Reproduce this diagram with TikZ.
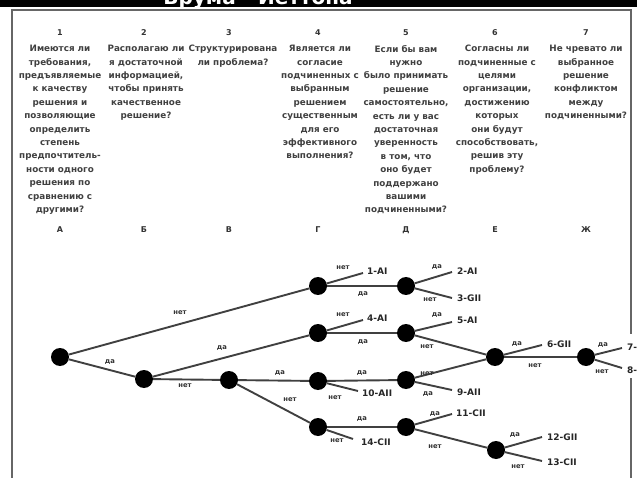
\documentclass[tikz,border=0pt]{standalone}
\usepackage{fontspec}
\setmainfont{DejaVu Sans}
\begin{document}
\begin{tikzpicture}[x=1pt,y=-1pt,
  dot/.style={circle, fill=black, minimum size=18pt, inner sep=0pt},
  branch/.style={draw=black!75, line width=1.9pt},
  yn/.style={font=\fontsize{6.8}{7}\selectfont\bfseries, text=black!80, inner sep=0pt},
  leaf/.style={font=\fontsize{9}{9}\selectfont\bfseries, text=black!85, anchor=west, inner sep=0pt},
  qtext/.style={font=\fontsize{8.8}{13.4}\selectfont\bfseries, align=center, anchor=north, inner sep=0pt, text=black!75},
  colhead/.style={font=\fontsize{8}{8}\selectfont\bfseries, text=black!80, inner sep=0pt},
  frameline/.style={draw=black!60, line width=1.4pt}]
\useasboundingbox (0,0) rectangle (637,478);
% title bar
\begin{scope}
  \clip (0,0) rectangle (637,7);
  \fill[black] (0,0) rectangle (637,7);
  \node[text=white, font=\fontsize{20}{20}\selectfont\bfseries, anchor=base, inner sep=0pt] (title) at (258,5) {Врума - Йеттона};
\end{scope}
% frame
\coordinate (f1) at (12,478);
\coordinate (f2) at (12,10);
\coordinate (f3) at (631,10);
\coordinate (f4) at (631,334);
\coordinate (f5) at (631,378);
\coordinate (f6) at (631,478);
\draw[frameline] (f1) -- (f2) -- (f3) -- (f4);
\draw[frameline] (f5) -- (f6);
% column numbers
\foreach \n/\x in {1/60,2/144,3/229,4/318,5/406,6/495,7/586}
  \node[colhead] (num\n) at (\x,33) {\n};
% questions
\node[qtext] (q1) at (60,45) {Имеются ли\\требования,\\предъявляемые\\к качеству\\решения и\\позволяющие\\определить\\степень\\предпочтитель-\\ности одного\\решения по\\сравнению с\\другими?};
\node[qtext] (q2) at (146,45) {Располагаю ли\\я достаточной\\информацией,\\чтобы принять\\качественное\\решение?};
\node[qtext] (q3) at (233,45) {Структурирована\\ли проблема?};
\node[qtext] (q4) at (320,45) {Является ли\\согласие\\подчиненных с\\выбранным\\решением\\существенным\\для его\\эффективного\\выполнения?};
\node[qtext] (q5) at (406,45) {Если бы вам\\нужно\\было принимать\\решение\\самостоятельно,\\есть ли у вас\\достаточная\\уверенность\\в том, что\\оно будет\\поддержано\\вашими\\подчиненными?};
\node[qtext] (q6) at (497,45) {Согласны ли\\подчиненные с\\целями\\организации,\\достижению\\которых\\они будут\\способствовать,\\решив эту\\проблему?};
\node[qtext] (q7) at (586,45) {Не чревато ли\\выбранное\\решение\\конфликтом\\между\\подчиненными?};
% column letters
\foreach \n/\l/\x in {1/А/60,2/Б/144,3/В/229,4/Г/318,5/Д/406,6/Е/495,7/Ж/586}
  \node[colhead] (let\n) at (\x,230) {\l};
% decision nodes
\node[dot] (A) at (60,357) {};
\node[dot] (B) at (144,379) {};
\node[dot] (V) at (229,380) {};
\node[dot] (G1) at (318,286) {};
\node[dot] (G2) at (318,333) {};
\node[dot] (G3) at (318,381) {};
\node[dot] (G4) at (318,427) {};
\node[dot] (D1) at (406,286) {};
\node[dot] (D2) at (406,333) {};
\node[dot] (D3) at (406,380) {};
\node[dot] (D4) at (406,427) {};
\node[dot] (E1) at (495,357) {};
\node[dot] (E2) at (496,450) {};
\node[dot] (Zh) at (586,357) {};
% leaf ends
\coordinate (l1) at (363,273);
\coordinate (l2) at (452,272);
\coordinate (l3) at (452,298);
\coordinate (l4) at (363,320);
\coordinate (l5) at (452,322);
\coordinate (l6) at (542,345);
\coordinate (l7) at (622,348);
\coordinate (l8) at (622,368);
\coordinate (l9) at (452,390);
\coordinate (l10) at (358,391);
\coordinate (l11) at (452,414);
\coordinate (l12) at (542,437);
\coordinate (l13) at (542,461);
\coordinate (l14) at (353,439);
% branches
\draw[branch] (A) -- (G1);
\draw[branch] (A) -- (B);
\draw[branch] (B) -- (G2);
\draw[branch] (B) -- (V);
\draw[branch] (V) -- (G3);
\draw[branch] (V) -- (G4);
\draw[branch] (G1) -- (D1);
\draw[branch] (G2) -- (D2);
\draw[branch] (G3) -- (D3);
\draw[branch] (G4) -- (D4);
\draw[branch] (D2) -- (E1);
\draw[branch] (D3) -- (E1);
\draw[branch] (D4) -- (E2);
\draw[branch] (E1) -- (Zh);
\draw[branch] (G1) -- (l1);
\draw[branch] (D1) -- (l2);
\draw[branch] (D1) -- (l3);
\draw[branch] (G2) -- (l4);
\draw[branch] (D2) -- (l5);
\draw[branch] (E1) -- (l6);
\draw[branch] (Zh) -- (l7);
\draw[branch] (Zh) -- (l8);
\draw[branch] (D3) -- (l9);
\draw[branch] (G3) -- (l10);
\draw[branch] (D4) -- (l11);
\draw[branch] (E2) -- (l12);
\draw[branch] (E2) -- (l13);
\draw[branch] (G4) -- (l14);
% leaf labels
\node[leaf] (t1) at (367,271) {1-AI};
\node[leaf] (t2) at (457,271) {2-AI};
\node[leaf] (t3) at (457,298) {3-GII};
\node[leaf] (t4) at (367,318) {4-AI};
\node[leaf] (t5) at (457,320) {5-AI};
\node[leaf] (t6) at (547,344) {6-GII};
\node[leaf] (t7) at (627,347) {7-GII};
\node[leaf] (t8) at (627,370) {8-CII};
\node[leaf] (t9) at (457,392) {9-AII};
\node[leaf] (t10) at (362,393) {10-AII};
\node[leaf] (t11) at (456,413) {11-CII};
\node[leaf] (t12) at (547,437) {12-GII};
\node[leaf] (t13) at (547,462) {13-CII};
\node[leaf] (t14) at (361,442) {14-CII};
% yes / no labels
\node[yn] (y1) at (180,313) {нет};
\node[yn] (y2) at (110,362) {да};
\node[yn] (y3) at (222,348) {да};
\node[yn] (y4) at (185,386) {нет};
\node[yn] (y5) at (280,373) {да};
\node[yn] (y6) at (290,400) {нет};
\node[yn] (y7) at (343,268) {нет};
\node[yn] (y8) at (363,294) {да};
\node[yn] (y9) at (437,267) {да};
\node[yn] (y10) at (430,300) {нет};
\node[yn] (y11) at (343,315) {нет};
\node[yn] (y12) at (363,342) {да};
\node[yn] (y13) at (437,315) {да};
\node[yn] (y14) at (427,347) {нет};
\node[yn] (y15) at (362,373) {да};
\node[yn] (y16) at (335,398) {нет};
\node[yn] (y17) at (427,374) {нет};
\node[yn] (y18) at (428,394) {да};
\node[yn] (y19) at (362,419) {да};
\node[yn] (y20) at (337,441) {нет};
\node[yn] (y21) at (435,414) {да};
\node[yn] (y22) at (435,447) {нет};
\node[yn] (y23) at (517,344) {да};
\node[yn] (y24) at (535,366) {нет};
\node[yn] (y25) at (603,345) {да};
\node[yn] (y26) at (602,372) {нет};
\node[yn] (y27) at (515,435) {да};
\node[yn] (y28) at (518,467) {нет};
\end{tikzpicture}
\end{document}
